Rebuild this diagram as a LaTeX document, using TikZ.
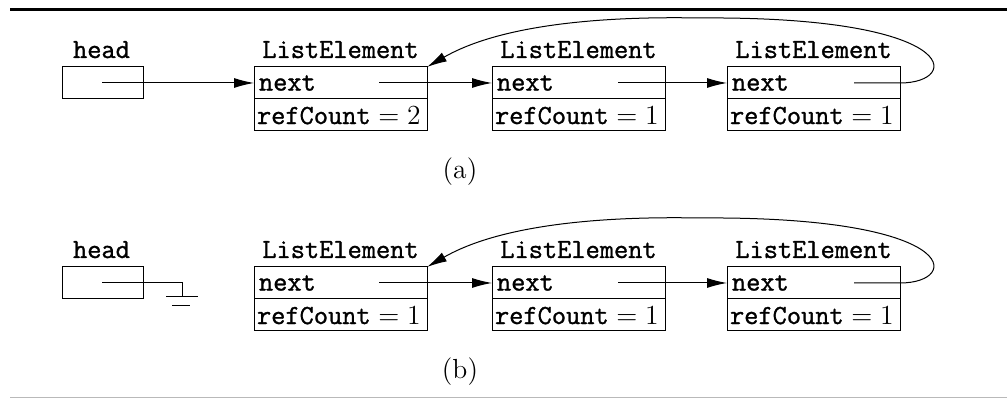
\documentclass[tikz,border=0pt]{standalone}
\usepackage{fontspec}
\setmonofont{Latin Modern Mono}[FakeBold=1.2]
\usetikzlibrary{arrows.meta,positioning}
\newcommand\listfont{\fontsize{13.8}{17}\selectfont}
\newcommand\refcnt[1]{refCount{\rmfamily\hspace{0.28em}=\hspace{0.28em}#1}}

\begin{document}
\begin{tikzpicture}[x=0.5pt,y=-0.5pt,line width=0.5pt,
  field/.style={draw,rectangle,text width=83.5pt,inner xsep=1.5pt,inner ysep=0pt,
    minimum height=16pt,outer sep=0pt,align=left,font=\listfont\ttfamily},
  hbox/.style={draw,rectangle,minimum width=40.5pt,minimum height=16pt,inner sep=0pt,outer sep=0pt},
  title/.style={anchor=base,inner sep=0pt,font=\listfont\ttfamily},
  caption/.style={font=\listfont},
  ptr/.style={-{Latex[length=10pt,width=5pt]}}]
\useasboundingbox (0,0) rectangle (1007,399);
\draw[line width=1.5pt] (10,10) -- (1007,10);
\draw[gray!55] (10,398) -- (1007,398);
% (a)
\node[title] (ha) at (101.5,58) {head};
\node[hbox] (hba) at (102.5,83) {};
\node[title] (ta1) at (340.5,58) {ListElement};
\node[field] (na1) at (340.5,83) {\hspace{1pt}next};
\node[field,below=0pt of na1] (ra1) {\refcnt{2}};
\node[title] (ta2) at (578.5,58) {ListElement};
\node[field] (na2) at (578.5,83) {\hspace{1pt}next};
\node[field,below=0pt of na2] (ra2) {\refcnt{1}};
\node[title] (ta3) at (813.5,58) {ListElement};
\node[field] (na3) at (813.5,83) {\hspace{1pt}next};
\node[field,below=0pt of na3] (ra3) {\refcnt{1}};
\coordinate (qa0) at (102,83);
\coordinate (qa1) at (379,83);
\coordinate (qa2) at (618,83);
\coordinate (qa3) at (854,83);
\draw[ptr] (qa0) -- (na1.west);
\draw[ptr] (qa1) -- (na2.west);
\draw[ptr] (qa2) -- (na3.west);
\draw[ptr] (qa3) -- (na3.east) .. controls (962,83) and (962,16) .. (700,18)
  .. controls (600,16) and (500,25) .. (na1.north east);
\node[caption] (capa) at (460,172) {(a)};
% (b)
\begin{scope}[shift={(0,200)}]
\node[title] (hb) at (101.5,58) {head};
\node[hbox] (hbb) at (102.5,83) {};
\node[title] (tb1) at (340.5,58) {ListElement};
\node[field] (nb1) at (340.5,83) {\hspace{1pt}next};
\node[field,below=0pt of nb1] (rb1) {\refcnt{1}};
\node[title] (tb2) at (578.5,58) {ListElement};
\node[field] (nb2) at (578.5,83) {\hspace{1pt}next};
\node[field,below=0pt of nb2] (rb2) {\refcnt{1}};
\node[title] (tb3) at (813.5,58) {ListElement};
\node[field] (nb3) at (813.5,83) {\hspace{1pt}next};
\node[field,below=0pt of nb3] (rb3) {\refcnt{1}};
\coordinate (qb0) at (102,83);
\coordinate (gb) at (182,97);
\coordinate (qb1) at (379,83);
\coordinate (qb2) at (618,83);
\coordinate (qb3) at (854,83);
\draw (qb0) -| (gb);
\draw (gb) ++(-16,0) -- ++(32,0);
\draw (gb) ++(-10,9) -- ++(18,0);
\draw[ptr] (qb1) -- (nb2.west);
\draw[ptr] (qb2) -- (nb3.west);
\draw[ptr] (qb3) -- (nb3.east) .. controls (962,83) and (962,16) .. (700,18)
  .. controls (600,16) and (500,25) .. (nb1.north east);
\node[caption] (capb) at (460,172) {(b)};
\end{scope}
\end{tikzpicture}
\end{document}
